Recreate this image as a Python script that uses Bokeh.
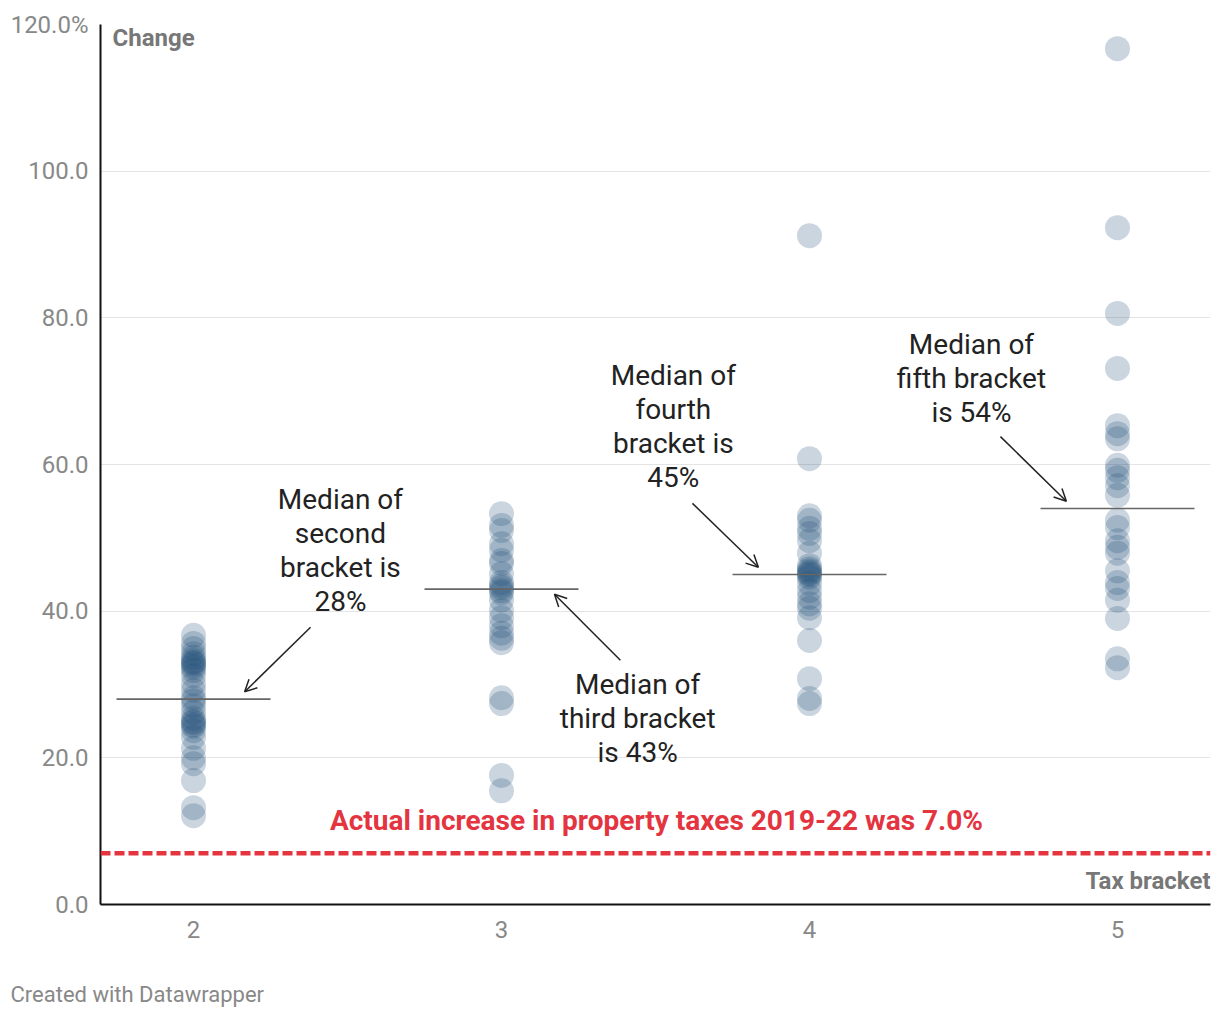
from bokeh.plotting import figure
from bokeh.models import ColumnDataSource, Range1d, FixedTicker, Arrow, OpenHead, Label, Span, Title
from bokeh.core.properties import value
from bokeh.embed import file_html
from bokeh.resources import INLINE

# ---------------- data ----------------
brackets = [2, 3, 4, 5]
x_tick_labels = ["2", "3", "4", "5"]

change_b2 = [36.7, 35.6, 34.9, 34.2, 33.7, 33.3, 33.0, 32.9, 32.6, 32.3, 31.9, 31.2,
             30.1, 29.2, 28.2, 27.8, 27.1, 26.2, 25.4, 25.0, 24.8, 24.5, 24.3, 23.7,
             22.8, 21.3, 20.0, 19.2, 16.9, 13.2, 12.1]
change_b3 = [53.3, 51.7, 51.0, 49.2, 48.3, 46.9, 46.5, 45.1, 43.9, 43.5, 43.2, 42.8,
             42.5, 41.5, 40.1, 39.1, 38.0, 37.0, 36.3, 35.7, 28.2, 27.4, 17.6, 15.5]
change_b4 = [91.2, 60.8, 53.0, 52.4, 51.3, 50.6, 49.6, 47.9, 46.2, 45.8, 45.5, 45.3,
             45.1, 44.9, 44.6, 43.8, 42.8, 41.9, 41.0, 40.4, 39.1, 36.0, 30.8, 28.1, 27.4]
change_b5 = [116.7, 92.3, 80.6, 73.1, 65.3, 64.2, 63.5, 59.9, 59.2, 58.2, 57.1, 55.8,
             52.4, 51.4, 49.6, 48.7, 47.9, 45.5, 43.9, 43.1, 41.5, 39.0, 33.5, 32.3]

medians = [28, 43, 45, 54]
actual_increase = 7.0

y_ticks = [0, 20, 40, 60, 80, 100, 120]
y_tick_labels = ["0.0", "20.0", "40.0", "60.0", "80.0", "100.0", "120.0%"]

ann_texts = ["Median of\nsecond\nbracket is\n28%",
             "Median of\nthird bracket\nis 43%",
             "Median of\nfourth\nbracket is\n45%",
             "Median of\nfifth bracket\nis 54%"]
ann_x = [2.477, 3.442, 3.558, 4.526]
ann_y = [48.3, 25.3, 65.2, 71.7]
arrow_x0 = [2.380, 3.386, 3.620, 4.620]
arrow_y0 = [37.8, 33.3, 54.7, 63.8]
arrow_x1 = [2.166, 3.172, 3.834, 4.834]
arrow_y1 = [29.0, 42.3, 46.0, 55.0]

# ---------------- figure ----------------
FONT = "Roboto"
p = figure(width=1220, height=1020, output_backend="svg", toolbar_location=None,
           x_range=Range1d(1.698, 5.302), y_range=Range1d(0, 120),
           min_border_left=100, min_border_right=10, min_border_top=24,
           min_border_bottom=10, background_fill_color="white",
           border_fill_color="white")
p.outline_line_color = None

# axes
p.xaxis.ticker = FixedTicker(ticks=brackets)
p.xaxis.major_label_overrides = {b: l for b, l in zip(brackets, x_tick_labels)}
p.yaxis.ticker = FixedTicker(ticks=y_ticks)
p.yaxis.major_label_overrides = {t: l for t, l in zip(y_ticks, y_tick_labels)}
for ax in (p.xaxis, p.yaxis):
    ax.axis_line_color = "#111111"
    ax.axis_line_width = 2
    ax.major_tick_line_color = None
    ax.minor_tick_line_color = None
    ax.major_label_text_font = FONT
    ax.major_label_text_font_size = "24px"
    ax.major_label_text_color = "#888888"
p.yaxis.major_label_standoff = 6
p.xaxis.major_label_standoff = 10
p.xgrid.grid_line_color = None
p.ygrid.grid_line_color = "#e4e4e4"
p.ygrid.grid_line_width = 1
p.ygrid.ticker = FixedTicker(ticks=y_ticks)

# footer credit (below the x axis)
p.add_layout(Title(text="\nCreated with Datawrapper", text_font=FONT, text_font_size="22px",
                   text_font_style="normal", text_color="#888888", align="left",
                   offset=-90, standoff=28), "below")

# points
xs, ys = [], []
for b, vals in zip(brackets, [change_b2, change_b3, change_b4, change_b5]):
    xs += [b] * len(vals)
    ys += vals
p.scatter(x=xs, y=ys, size=25, fill_color="#234f7a", fill_alpha=0.24, line_color=None)

# medians
p.segment(x0=[b - 0.25 for b in brackets], y0=medians,
          x1=[b + 0.25 for b in brackets], y1=medians,
          line_color="#666666", line_width=1.6)

# actual increase line
p.add_layout(Span(location=actual_increase, dimension="width", line_color="#e3343f",
                  line_width=4.5, line_dash="10 4"))
p.add_layout(Label(x=3.503, y=11.45,
                   text="Actual increase in property taxes 2019-22 was %.1f%%" % actual_increase,
                   text_font=FONT, text_font_size="28px", text_font_style="bold",
                   text_color="#e3343f", text_align="center", text_baseline="middle"))

# annotations
src = ColumnDataSource(dict(x=ann_x, y=ann_y, text=ann_texts))
p.text(x="x", y="y", text="text", source=src, text_font=value(FONT),
       text_font_size="28px", text_color="#222222", text_align="center",
       text_baseline="middle", text_line_height=1.03)
for x0, y0, x1, y1 in zip(arrow_x0, arrow_y0, arrow_x1, arrow_y1):
    p.add_layout(Arrow(x_start=x0, y_start=y0, x_end=x1, y_end=y1,
                       line_color="#222222", line_width=1.5,
                       end=OpenHead(size=12, line_color="#222222", line_width=1.5)))

# axis titles
p.add_layout(Label(x=1.737, y=118.1, text="Change", text_font=FONT,
                   text_font_size="24px", text_font_style="bold", text_color="#777777",
                   text_align="left", text_baseline="middle"))
p.add_layout(Label(x=5.302, y=3.27, text="Tax bracket", text_font=FONT,
                   text_font_size="24px", text_font_style="bold", text_color="#777777",
                   text_align="right", text_baseline="middle"))

open("out.html", "w").write(file_html(p, INLINE))
